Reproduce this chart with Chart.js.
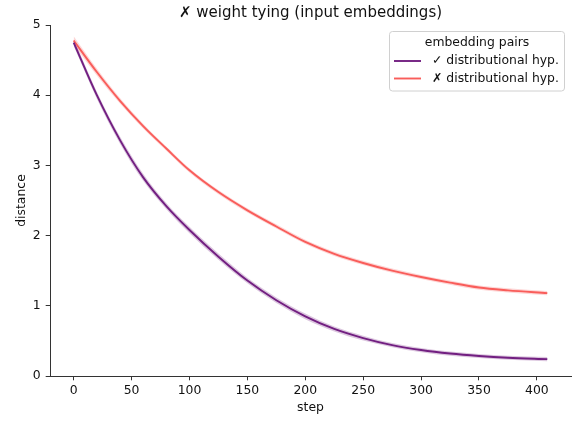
<!DOCTYPE html>
<html>
<head>
<meta charset="utf-8">
<script src="https://cdn.jsdelivr.net/npm/chart.js@4.4.1/dist/chart.umd.min.js"></script>
<style>
    html, body { margin: 0; padding: 0; background: #fff; }
</style>
</head>
<body>
<canvas id="distanceChart" width="576" height="421"></canvas>
<script>

    // Training steps at which the distance was read.
    var steps = [0, 20, 40, 60, 80, 100, 125, 150, 175, 200, 225, 250, 275, 300, 325, 350, 375, 409];

    // Mean distance per group of embedding pairs.
    var distributionalYes = [4.75, 4.00, 3.36, 2.83, 2.42, 2.08, 1.70, 1.36, 1.08, 0.85, 0.67, 0.54, 0.44, 0.37, 0.32, 0.285, 0.26, 0.24];
    var distributionalNo = [4.78, 4.33, 3.92, 3.56, 3.24, 2.93, 2.62, 2.36, 2.13, 1.91, 1.74, 1.61, 1.50, 1.41, 1.33, 1.26, 1.22, 1.18];

    // Half width of the shaded band around each mean.
    var spreadYes = [0.05, 0.05, 0.05, 0.05, 0.045, 0.045, 0.045, 0.04, 0.04, 0.04, 0.035, 0.035, 0.03, 0.03, 0.03, 0.03, 0.03, 0.03];
    var spreadNo = [0.06, 0.05, 0.04, 0.035, 0.03, 0.03, 0.03, 0.03, 0.03, 0.03, 0.03, 0.03, 0.03, 0.03, 0.03, 0.03, 0.03, 0.03];

    var seriesLabels = ['\u2713 distributional hyp.', '\u2717 distributional hyp.'];
    var legendTitle = 'embedding pairs';
    var chartTitle = '\u2717 weight tying (input embeddings)';

    var xTicks = [0, 50, 100, 150, 200, 250, 300, 350, 400];
    var yTicks = [0, 1, 2, 3, 4, 5];

    var purple = '#721f81';
    var red = '#f95d5a';
    var fontFamily = 'DejaVu Sans';
    var textColor = '#111';
    var axisColor = '#333';

    function points(values, spread, sign) {
        return steps.map(function (step, i) {
            var offset = spread ? sign * spread[i] : 0;
            return {x: step, y: values[i] + offset};
        });
    }

    function lineSet(label, values, color) {
        return {
            label: label,
            data: points(values),
            borderColor: color,
            borderWidth: 1.9,
            pointRadius: 0,
            fill: false,
            cubicInterpolationMode: 'monotone'
        };
    }

    function bandSet(values, spread, sign, color, fillTarget) {
        return {
            label: '',
            data: points(values, spread, sign),
            borderWidth: 0,
            borderColor: 'rgba(0,0,0,0)',
            backgroundColor: color,
            pointRadius: 0,
            fill: fillTarget,
            cubicInterpolationMode: 'monotone'
        };
    }

    /**
     * Title centred over the plot area.
     */
    var titlePlugin = {
        id: 'plotTitle',
        afterDraw: function (chart) {
            var ctx = chart.ctx;
            var area = chart.chartArea;
            ctx.save();
            ctx.font = '15px "' + fontFamily + '"';
            ctx.fillStyle = textColor;
            ctx.textAlign = 'center';
            ctx.textBaseline = 'middle';
            ctx.fillText(chartTitle, (area.left + area.right) / 2, 13);
            ctx.restore();
        }
    };

    /**
     * Boxed legend in the upper right corner.
     */
    var legendPlugin = {
        id: 'boxLegend',
        afterDraw: function (chart) {
            var ctx = chart.ctx;
            var left = 389.5, top = 31.5, width = 175, height = 59.5;
            var colors = [purple, red];

            ctx.save();
            ctx.beginPath();
            ctx.roundRect(left, top, width, height, 3);
            ctx.fillStyle = 'rgba(255,255,255,0.8)';
            ctx.fill();
            ctx.strokeStyle = '#d0d0d0';
            ctx.lineWidth = 1;
            ctx.stroke();

            ctx.font = '12.4px "' + fontFamily + '"';
            ctx.fillStyle = textColor;
            ctx.textBaseline = 'middle';
            ctx.textAlign = 'center';
            ctx.fillText(legendTitle, left + width / 2, top + 11.5);

            ctx.textAlign = 'left';
            seriesLabels.forEach(function (label, i) {
                var y = top + 29.5 + i * 17.5;
                ctx.beginPath();
                ctx.moveTo(394, y);
                ctx.lineTo(421, y);
                ctx.strokeStyle = colors[i];
                ctx.lineWidth = 1.9;
                ctx.stroke();
                ctx.fillStyle = textColor;
                ctx.fillText(label, 432, y);
            });
            ctx.restore();
        }
    };

    var tickFont = {family: fontFamily, size: 12.4};

    new Chart(document.getElementById('distanceChart'), {
        type: 'line',
        data: {
            datasets: [
                lineSet(seriesLabels[0], distributionalYes, purple),
                lineSet(seriesLabels[1], distributionalNo, red),
                bandSet(distributionalYes, spreadYes, -1, 'rgba(114,31,129,0.25)', false),
                bandSet(distributionalYes, spreadYes, 1, 'rgba(114,31,129,0.25)', '-1'),
                bandSet(distributionalNo, spreadNo, -1, 'rgba(249,93,90,0.25)', false),
                bandSet(distributionalNo, spreadNo, 1, 'rgba(249,93,90,0.25)', '-1')
            ]
        },
        options: {
            responsive: false,
            animation: false,
            devicePixelRatio: 1,
            layout: {
                padding: {top: 25, right: 5, left: 0, bottom: 0}
            },
            plugins: {
                legend: {display: false},
                title: {display: false},
                tooltip: {enabled: false}
            },
            scales: {
                x: {
                    type: 'linear',
                    min: -20.45,
                    max: 429.45,
                    afterBuildTicks: function (scale) {
                        scale.ticks = xTicks.map(function (v) { return {value: v}; });
                    },
                    afterFit: function (scale) {
                        scale.height = 45;
                    },
                    ticks: {
                        font: tickFont,
                        color: textColor,
                        padding: 3,
                        maxRotation: 0
                    },
                    grid: {
                        drawOnChartArea: false,
                        tickLength: 4.3,
                        color: axisColor
                    },
                    border: {color: axisColor, width: 1},
                    title: {
                        display: true,
                        text: 'step',
                        font: tickFont,
                        color: textColor,
                        padding: {top: 0, bottom: 6}
                    }
                },
                y: {
                    min: 0,
                    max: 5,
                    afterBuildTicks: function (scale) {
                        scale.ticks = yTicks.map(function (v) { return {value: v}; });
                    },
                    afterFit: function (scale) {
                        scale.width = 50;
                    },
                    ticks: {
                        font: tickFont,
                        color: textColor,
                        padding: 5
                    },
                    grid: {
                        drawOnChartArea: false,
                        tickLength: 4.3,
                        color: axisColor
                    },
                    border: {color: axisColor, width: 1},
                    title: {
                        display: true,
                        text: 'distance',
                        font: tickFont,
                        color: textColor,
                        padding: {top: 14, bottom: 0}
                    }
                }
            }
        },
        plugins: [titlePlugin, legendPlugin]
    });
</script>
</body>
</html>
